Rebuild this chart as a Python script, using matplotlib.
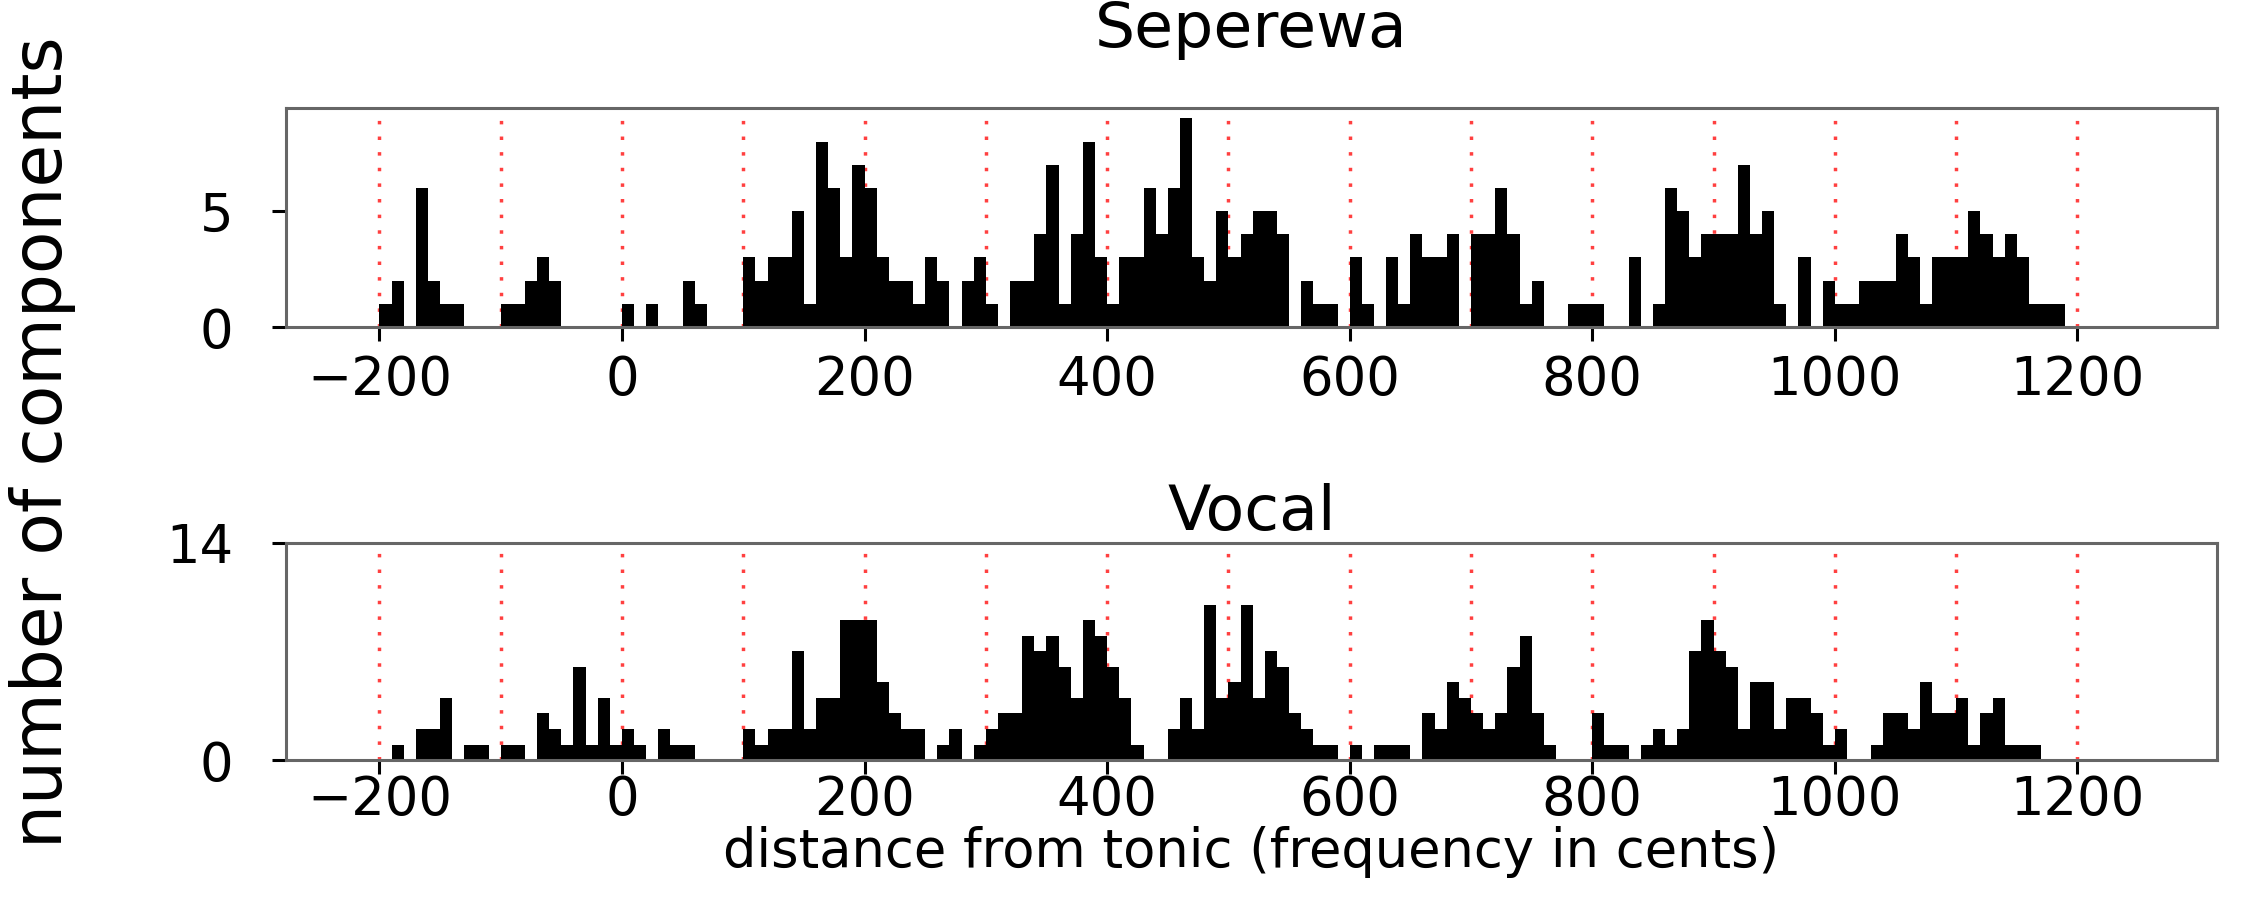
import matplotlib
matplotlib.use("Agg")
import matplotlib.pyplot as plt

# bins of 10 cents, left edges from -200 to 1190
bin_start = list(range(-200, 1200, 10))

# Seperewa counts per bin
seperewa = [1, 2, 0, 6, 2, 1, 1, 0, 0, 0,
            1, 1, 2, 3, 2, 0, 0, 0, 0, 0,
            1, 0, 1, 0, 0, 2, 1, 0, 0, 0,
            3, 2, 3, 3, 5, 1, 8, 6, 3, 7,
            6, 3, 2, 2, 1, 3, 2, 0, 2, 3,
            1, 0, 2, 2, 4, 7, 1, 4, 8, 3,
            1, 3, 3, 6, 4, 6, 9, 3, 2, 5,
            3, 4, 5, 5, 4, 0, 2, 1, 1, 0,
            3, 1, 0, 3, 1, 4, 3, 3, 4, 0,
            4, 4, 6, 4, 1, 2, 0, 0, 1, 1,
            1, 0, 0, 3, 0, 1, 6, 5, 3, 4,
            4, 4, 7, 4, 5, 1, 0, 3, 0, 2,
            1, 1, 2, 2, 2, 4, 3, 1, 3, 3,
            3, 5, 4, 3, 4, 3, 1, 1, 1, 0]

# Vocal counts per bin
vocal = [0, 1, 0, 2, 2, 4, 0, 1, 1, 0,
         1, 1, 0, 3, 2, 1, 6, 1, 4, 1,
         2, 1, 0, 2, 1, 1, 0, 0, 0, 0,
         2, 1, 2, 2, 7, 2, 4, 4, 9, 9,
         9, 5, 3, 2, 2, 0, 1, 2, 0, 1,
         2, 3, 3, 8, 7, 8, 6, 4, 9, 8,
         6, 4, 1, 0, 0, 2, 4, 2, 10, 4,
         5, 10, 4, 7, 6, 3, 2, 1, 1, 0,
         1, 0, 1, 1, 1, 0, 3, 2, 5, 4,
         3, 2, 3, 6, 8, 3, 1, 0, 0, 0,
         3, 1, 1, 0, 1, 2, 1, 2, 7, 9,
         7, 6, 2, 5, 5, 2, 4, 4, 3, 1,
         2, 0, 0, 1, 3, 3, 2, 5, 3, 3,
         4, 1, 3, 4, 1, 1, 1, 0, 0, 0]

semitones = list(range(-200, 1300, 100))
xticks = [-200, 0, 200, 400, 600, 800, 1000, 1200]

plt.rcParams['font.family'] = 'DejaVu Sans'
plt.rcParams['font.size'] = 38

fig = plt.figure(figsize=(22.45, 9.22), dpi=100)
ax1 = fig.add_axes([0.1274, 0.6453, 0.8601, 0.2376])
ax2 = fig.add_axes([0.1274, 0.1757, 0.8601, 0.2354])

# axis, counts, title, yticks, ylim, title pad, xtick pad
panels = [(ax1, seperewa, "Seperewa", [0, 5], (0, 9.45), 44, 9.8),
          (ax2, vocal, "Vocal", [0, 14], (0, 14), 0, 0)]

for ax, counts, name, yt, ylim, pad, xpad in panels:
    ax.bar(bin_start, counts, width=10, align='edge', color='black', linewidth=0)
    for s in semitones:
        ax.axvline(s, color='red', linestyle=(0, (1, 3.5)), linewidth=2.5, alpha=0.75, zorder=0)
    ax.set_xlim(-277, 1315)
    ax.set_ylim(*ylim)
    ax.set_xticks(xticks)
    ax.set_yticks(yt)
    ax.set_title(name, pad=pad)
    ax.tick_params(length=9.8, width=2.2)
    ax.tick_params(axis='x', pad=xpad)
    ax.tick_params(axis='y', pad=28)
    for sp in ax.spines.values():
        sp.set_linewidth(2.2)
        sp.set_color('#666666')

ax2.set_xlabel("distance from tonic (frequency in cents)", labelpad=0)
fig.text(0.019, 0.52, "number of components", rotation=90, ha='center', va='center',
         fontsize=50)

fig.savefig("out.png", dpi=100)
